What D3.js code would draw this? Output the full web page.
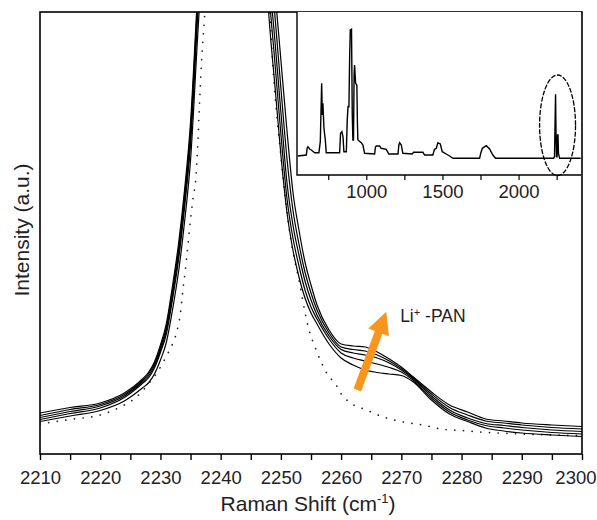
<!DOCTYPE html>
<html>
<head>
<meta charset="utf-8">
<script src="https://cdn.jsdelivr.net/npm/d3@7"></script>
<style>
  html, body { margin: 0; padding: 0; background: #fff; }
  svg { display: block; font-family: "Liberation Sans", Arial, Helvetica, sans-serif; }
</style>
</head>
<body>
<svg id="chart" width="597" height="520"></svg>
<script>
// ---- C≡N stretching region: five Li-salt concentrations ----
const ramanShift = [2210,2215,2220,2224,2227,2228,2229,2230,2231,2232,
                    2233,2234,2235,2236,2237,2241,2245,2247,2248,2249,
                    2250,2251,2252,2253,2254,2255,2256,2258,2260,2262,
                    2264,2266,2268,2270,2272,2275,2278,2281,2284,2287,
                    2290,2295,2300];
const sampleA = [41,46.5,51,61,75,81.5,92,109,131,168,
                 210,264,332,442,564,1980,1180,624,534,464,
                 394,324,262,224,192,169,149,124,110,108,
                 107,102,95,87,77,62,49,42,35,33,
                 31,29,27.5];
const sampleB = [38.5,44.5,49.5,59.5,73.5,80,90,106.5,127.5,163.5,
                 204.5,258,324.5,434,554,1960,1150,604,509,439,
                 366,296,244,210,182,161,144,121,107,104.5,
                 103,99,93,85.5,76,60,46.5,39,33,31,
                 29,26.5,25];
const sampleC = [36.5,42.5,48,58,72,78,88,104,124,159,
                 199,252,317,426,544,1950,1120,584,484,414,
                 342,272,229,199,173,154,139,118,104.5,101,
                 99,96,91,84,75,58,44,36,30.5,28.5,
                 26.5,24,22.5];
const sampleD = [34.5,40.5,46,56.5,70.5,76,86,101.5,120.5,154.5,
                 194,246,310,418,534,1940,1090,564,464,392,
                 320,256,216,188,164,147,135,115,101,96,
                 93,90,86.5,82,73.5,56,42,34,28.5,26,
                 24,21.5,20];
const sampleE = [32.5,38,43.5,53,66,71,80,94,112,144,
                 182,232,294,399,514,1920,1060,544,439,369,
                 299,242,204,177,156,141,130,110,96,89,
                 84,81.5,80,78.5,72,54,40,32.5,26,23,
                 21,19,17.5];

// pure PAN reference (dotted)
const pureShift = [2210,2215,2220,2223,2226,2228,2229.5,2231,2232,2232.7,
                   2233.3,2233.8,2234.1,2235,2235.4,2235.9,2236.2,2236.45,2236.8,2237.3,
                   2238,2240,2243,2246,2248.5,2250,2251.5,2253,2254.5,2256,
                   2257.5,2259.2,2260.1,2261.5,2264.25,2267,2270.1,2274,2277,2280,
                   2283,2286,2290,2295,2300];
const pureIntensity = [30,34.5,39,46,57,70,82,98,110,122,
                       140,168,182,235,255,278,310,345,390,435,
                       520,800,950,800,404,298,220,174,128,102,
                       82,68.7,59.3,51.3,44,37,32.3,28.5,24.5,23.5,
                       22,21,20,19,18.5];

// full-range spectrum for the inset
const insetShift = [551,606,612,617,628,639,661,689,698,707,
                    711,715,722,731,737,825,831,840,847,853,
                    869,875,880,886,891,895,903,908,912,916,
                    920,923,930,938,942,945,967,978,989,1055,
                    1060,1066,1087,1098,1131,1148,1208,1214,1219,1230,
                    1240,1302,1311,1372,1383,1437,1448,1460,1470,1486,
                    1499,1525,1547,1569,1744,1752,1762,1788,1810,1831,
                    1849,2230,2236,2240,2243,2246,2249,2253,2256,2259,
                    2262,2270,2408];
const insetIntensity = [19,20,27,28.3,26,25,22.3,22.3,33.3,91.7,
                        60,71.7,46.7,35,22.3,22.3,41.7,43.3,38.3,23.3,
                        23.3,55,68.3,68.3,120,145,145.7,60,35,35,
                        100,110,91.7,90,50,35,32.3,30,21.7,21,
                        28,29,29,26.7,25.7,21,21,30,32.3,30,
                        21.7,21,22.7,22.7,20,20,25.7,26.7,32.3,31,
                        23.3,21,19,16.7,16.7,22,26.7,29.3,26,20,
                        16.7,16.7,18.3,55,80.7,40,18.3,18.3,40,40,
                        21.7,16.7,16.7];

const xTickValues = d3.range(2210, 2301, 5);
const insetTickValues = [750, 1000, 1250, 1500, 1750, 2000, 2250];
const insetLabelled = [1000, 1500, 2000];

// annotations (data coordinates)
const arrowTail = [2262.7, 64];
const arrowTip = [2267.5, 142.3];
const labelAt = [2269.8, 132.5];
const ringCentre = [2256, 49.7];
const ringRadii = [118, 50.3];

// ---- layout ----
const svg = d3.select("#chart");
const x = d3.scaleLinear().domain([2210, 2300]).range([40, 582]);
const y = d3.scaleLinear().domain([0, 442]).range([454, 12]);

svg.append("defs").append("clipPath").attr("id", "plotClip")
  .append("rect").attr("x", 40).attr("y", 12).attr("width", 542).attr("height", 442);

const plot = svg.append("g").attr("clip-path", "url(#plotClip)");

const line = d3.line().curve(d3.curveMonotoneX)
  .x(d => x(d[0])).y(d => y(d[1]));

// dotted pure PAN
plot.append("path")
  .datum(pureShift.map((s, i) => [s, pureIntensity[i]]))
  .attr("d", line)
  .attr("fill", "none")
  .attr("stroke", "#222")
  .attr("stroke-width", 1.7)
  .attr("stroke-linecap", "round")
  .attr("stroke-dasharray", "0.1 8.6");

[sampleA, sampleB, sampleC, sampleD, sampleE].forEach(s => {
  plot.append("path")
    .datum(ramanShift.map((r, i) => [r, s[i]]))
    .attr("d", line)
    .attr("fill", "none")
    .attr("stroke", "#000")
    .attr("stroke-width", 1.2);
});

// orange arrow
const tx = x(arrowTail[0]), ty = y(arrowTail[1]);
const hx = x(arrowTip[0]), hy = y(arrowTip[1]);
const len = Math.hypot(hx - tx, hy - ty);
const ux = (hx - tx) / len, uy = (hy - ty) / len;
const headLen = 22, headHalf = 11, shaftHalf = 4;
const bx = hx - ux * headLen, by = hy - uy * headLen;
const px = -uy, py = ux;
const arrowPts = [
  [tx + px * shaftHalf, ty + py * shaftHalf],
  [bx + px * shaftHalf, by + py * shaftHalf],
  [bx + px * headHalf, by + py * headHalf],
  [hx, hy],
  [bx - px * headHalf, by - py * headHalf],
  [bx - px * shaftHalf, by - py * shaftHalf],
  [tx - px * shaftHalf, ty - py * shaftHalf]
];
svg.append("polygon")
  .attr("points", arrowPts.map(p => p.join(",")).join(" "))
  .attr("fill", "#f7961c");

const lbl = svg.append("text")
  .attr("x", x(labelAt[0])).attr("y", y(labelAt[1]))
  .attr("font-size", 17.5).attr("fill", "#222");
lbl.append("tspan").text("Li");
lbl.append("tspan").attr("font-size", 11).attr("dy", -6).text("+");
lbl.append("tspan").attr("dy", 6).text(" -PAN");

// frame
svg.append("rect").attr("x", 40).attr("y", 12).attr("width", 542).attr("height", 442)
  .attr("fill", "none").attr("stroke", "#000").attr("stroke-width", 1.6);

// x axis
const xAxis = d3.axisBottom(x).tickValues(xTickValues).tickSize(6).tickPadding(10.5)
  .tickFormat(d => d % 10 === 0 ? d : "");
svg.append("g").attr("transform", "translate(0,454)").call(xAxis)
  .call(g => g.select(".domain").remove())
  .call(g => g.selectAll("line").attr("stroke", "#000").attr("stroke-width", 1.4))
  .call(g => g.selectAll("text").attr("font-size", 18.5).attr("fill", "#222")
    .attr("font-family", "'Liberation Sans', Arial, sans-serif"))
  // last label sits flush with the right edge of the canvas
  .call(g => g.selectAll(".tick").filter(d => d === 2300).select("text")
    .attr("text-anchor", "end").attr("x", 14));

svg.append("text").attr("x", 308).attr("y", 511).attr("text-anchor", "middle")
  .attr("font-size", 21).attr("fill", "#222")
  .call(t => {
    t.append("tspan").text("Raman Shift (cm");
    t.append("tspan").attr("font-size", 13).attr("dy", -8).text("-1");
    t.append("tspan").attr("dy", 8).text(")");
  });

svg.append("text").attr("transform", "translate(29,230) rotate(-90)")
  .attr("text-anchor", "middle").attr("font-size", 21).attr("fill", "#222")
  .text("Intensity (a.u.)");

// ---- inset: full spectrum ----
const xi = d3.scaleLinear().domain([545, 2410]).range([297, 581]);
const yi = d3.scaleLinear().domain([0, 163]).range([175, 12]);
const inset = svg.append("g");
inset.append("rect").attr("x", 297).attr("y", 12).attr("width", 284).attr("height", 163)
  .attr("fill", "#fff");
inset.append("path")
  .datum(insetShift.map((s, i) => [s, insetIntensity[i]]))
  .attr("d", d3.line().x(d => xi(d[0])).y(d => yi(d[1])))
  .attr("fill", "none").attr("stroke", "#000").attr("stroke-width", 1.4)
  .attr("stroke-linejoin", "miter");
inset.append("ellipse")
  .attr("cx", xi(ringCentre[0])).attr("cy", yi(ringCentre[1]))
  .attr("rx", xi(ringCentre[0] + ringRadii[0]) - xi(ringCentre[0]))
  .attr("ry", yi(0) - yi(ringRadii[1]))
  .attr("fill", "none").attr("stroke", "#000").attr("stroke-width", 1.3)
  .attr("stroke-dasharray", "5 1.5");
inset.append("path").attr("d", "M297,12 V175 H581")
  .attr("fill", "none").attr("stroke", "#000").attr("stroke-width", 1.4);
const insetAxis = d3.axisBottom(xi).tickValues(insetTickValues).tickSize(5).tickPadding(5)
  .tickFormat(d => insetLabelled.includes(d) ? d : "");
inset.append("g").attr("transform", "translate(0,175)").call(insetAxis)
  .call(g => g.select(".domain").remove())
  .call(g => g.selectAll("line").attr("stroke", "#000").attr("stroke-width", 1.2))
  .call(g => g.selectAll("text").attr("font-size", 18.5).attr("fill", "#222")
    .attr("font-family", "'Liberation Sans', Arial, sans-serif"));
</script>
</body>
</html>
